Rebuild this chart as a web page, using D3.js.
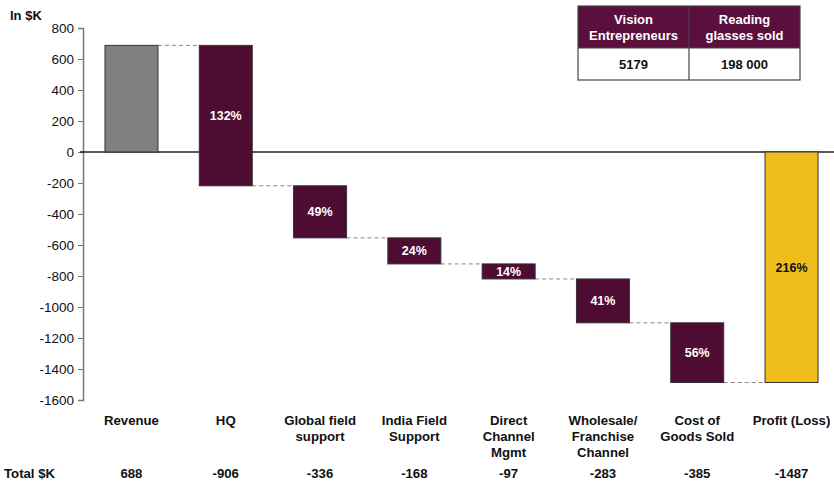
<!DOCTYPE html>
<html>
<head>
<meta charset="utf-8">
<script src="https://cdn.jsdelivr.net/npm/d3@7/dist/d3.min.js"></script>
<style>
  html, body { margin: 0; padding: 0; background: #fff; }
  svg { display: block; font-family: "Liberation Sans", Arial, sans-serif; }
</style>
</head>
<body>
<svg id="chart" width="834" height="484"></svg>
<script>
// Cost breakdown, in $K
const categories = ["Revenue", "HQ", "Global field\nsupport", "India Field\nSupport",
  "Direct\nChannel\nMgmt", "Wholesale/\nFranchise\nChannel", "Cost of\nGoods Sold", "Profit (Loss)"];
const totals = [688, -906, -336, -168, -97, -283, -385, -1487];
const shareLabels = [null, "132%", "49%", "24%", "14%", "41%", "56%", "216%"];
const kinds = ["start", "step", "step", "step", "step", "step", "step", "end"];
const yTicks = [800, 600, 400, 200, 0, -200, -400, -600, -800, -1000, -1200, -1400, -1600];
const tableHeaders = ["Vision\nEntrepreneurs", "Reading\nglasses sold"];
const tableValues = ["5179", "198 000"];

const colors = { start: "#808080", step: "#4e0c33", end: "#efbe1d" };

const svg = d3.select("#chart");

const x = d3.scaleBand()
  .domain(categories)
  .range([83, 840])
  .paddingInner(0.438)
  .paddingOuter(0.233);

const y = d3.scaleLinear().domain([-1600, 800]).range([400, 28]);

// waterfall segments from running totals
let running = 0;
const bars = categories.map((c, i) => {
  let y0, y1;
  if (kinds[i] === "start") { y0 = 0; y1 = totals[i]; running = totals[i]; }
  else if (kinds[i] === "end") { y0 = 0; y1 = totals[i]; }
  else { y0 = running; y1 = running + totals[i]; running = y1; }
  return { c, i, y0, y1, kind: kinds[i], label: shareLabels[i], total: totals[i] };
});

// y axis
const yAxis = d3.axisLeft(y).tickValues(yTicks).tickSize(5).tickPadding(4).tickFormat(d => String(d));
const ya = svg.append("g").attr("transform", "translate(83,0)").call(yAxis);
ya.select(".domain").attr("stroke", "#777").attr("stroke-width", 1.5);
ya.selectAll(".tick line").attr("stroke", "#777");
ya.selectAll(".tick text").attr("font-size", 13.5).attr("fill", "#111")
  .attr("font-family", "'Liberation Sans', Arial, sans-serif");

svg.append("text").attr("x", 10).attr("y", 20).attr("font-size", 13)
  .attr("font-weight", "bold").attr("fill", "#111").text("In $K");

// zero line
svg.append("line").attr("x1", 80).attr("x2", 834)
  .attr("y1", y(0)).attr("y2", y(0)).attr("stroke", "#222").attr("stroke-width", 1.3);

// dashed connectors between consecutive bars
for (let i = 0; i < bars.length - 1; i++) {
  const level = bars[i].y1;
  svg.append("line")
    .attr("x1", x(bars[i].c) + x.bandwidth())
    .attr("x2", x(bars[i + 1].c))
    .attr("y1", y(level)).attr("y2", y(level))
    .attr("stroke", "#888").attr("stroke-width", 1)
    .attr("stroke-dasharray", "4,3");
}

// bars
svg.append("g").selectAll("rect").data(bars).join("rect")
  .attr("x", d => x(d.c))
  .attr("width", x.bandwidth())
  .attr("y", d => y(Math.max(d.y0, d.y1)))
  .attr("height", d => Math.abs(y(d.y0) - y(d.y1)))
  .attr("fill", d => colors[d.kind])
  .attr("stroke", "#333").attr("stroke-width", 1);

// share labels inside bars
svg.append("g").selectAll("text").data(bars.filter(d => d.label)).join("text")
  .attr("x", d => x(d.c) + x.bandwidth() / 2)
  .attr("y", d => (y(d.y0) + y(d.y1)) / 2)
  .attr("dy", "0.36em")
  .attr("text-anchor", "middle")
  .attr("font-size", 12.5).attr("font-weight", "bold")
  .attr("fill", d => d.kind === "end" ? "#111" : "#fff")
  .text(d => d.label);

// category labels
const catG = svg.append("g").selectAll("text").data(bars).join("text")
  .attr("x", d => x(d.c) + x.bandwidth() / 2)
  .attr("y", 425)
  .attr("text-anchor", "middle")
  .attr("font-size", 13.2).attr("font-weight", "bold").attr("fill", "#111");
catG.each(function(d) {
  const lines = d.c.split("\n");
  d3.select(this).selectAll("tspan").data(lines).join("tspan")
    .attr("x", x(d.c) + x.bandwidth() / 2)
    .attr("dy", (l, k) => k === 0 ? 0 : 16)
    .text(l => l);
});

// totals row
svg.append("text").attr("x", 4).attr("y", 478).attr("font-size", 13.2)
  .attr("font-weight", "bold").attr("fill", "#111").text("Total $K");
svg.append("g").selectAll("text").data(bars).join("text")
  .attr("x", d => x(d.c) + x.bandwidth() / 2)
  .attr("y", 478)
  .attr("text-anchor", "middle")
  .attr("font-size", 13.2).attr("font-weight", "bold").attr("fill", "#111")
  .text(d => d.total);

// summary table
const tx = 578, tw = 222, ty = 6, hh = 42, bh = 32;
const colW = [111, 111];
const tg = svg.append("g");
tg.append("rect").attr("x", tx).attr("y", ty).attr("width", tw).attr("height", hh)
  .attr("fill", "#5a0f3c");
tg.append("rect").attr("x", tx).attr("y", ty).attr("width", tw).attr("height", hh + bh)
  .attr("fill", "none").attr("stroke", "#444").attr("stroke-width", 1.2);
tg.append("line").attr("x1", tx).attr("x2", tx + tw).attr("y1", ty + hh).attr("y2", ty + hh)
  .attr("stroke", "#444").attr("stroke-width", 1.2);
tg.append("line").attr("x1", tx + colW[0]).attr("x2", tx + colW[0]).attr("y1", ty).attr("y2", ty + hh + bh)
  .attr("stroke", "#444").attr("stroke-width", 1.2);
tableHeaders.forEach((h, i) => {
  const cx = tx + colW[0] * i + colW[i] / 2;
  const t = tg.append("text").attr("text-anchor", "middle").attr("font-size", 13)
    .attr("font-weight", "bold").attr("fill", "#fff");
  h.split("\n").forEach((l, k) => {
    t.append("tspan").attr("x", cx).attr("y", ty + 18 + k * 16).text(l);
  });
  tg.append("text").attr("x", cx).attr("y", ty + hh + 21).attr("text-anchor", "middle")
    .attr("font-size", 13).attr("font-weight", "bold").attr("fill", "#111").text(tableValues[i]);
});
</script>
</body>
</html>
